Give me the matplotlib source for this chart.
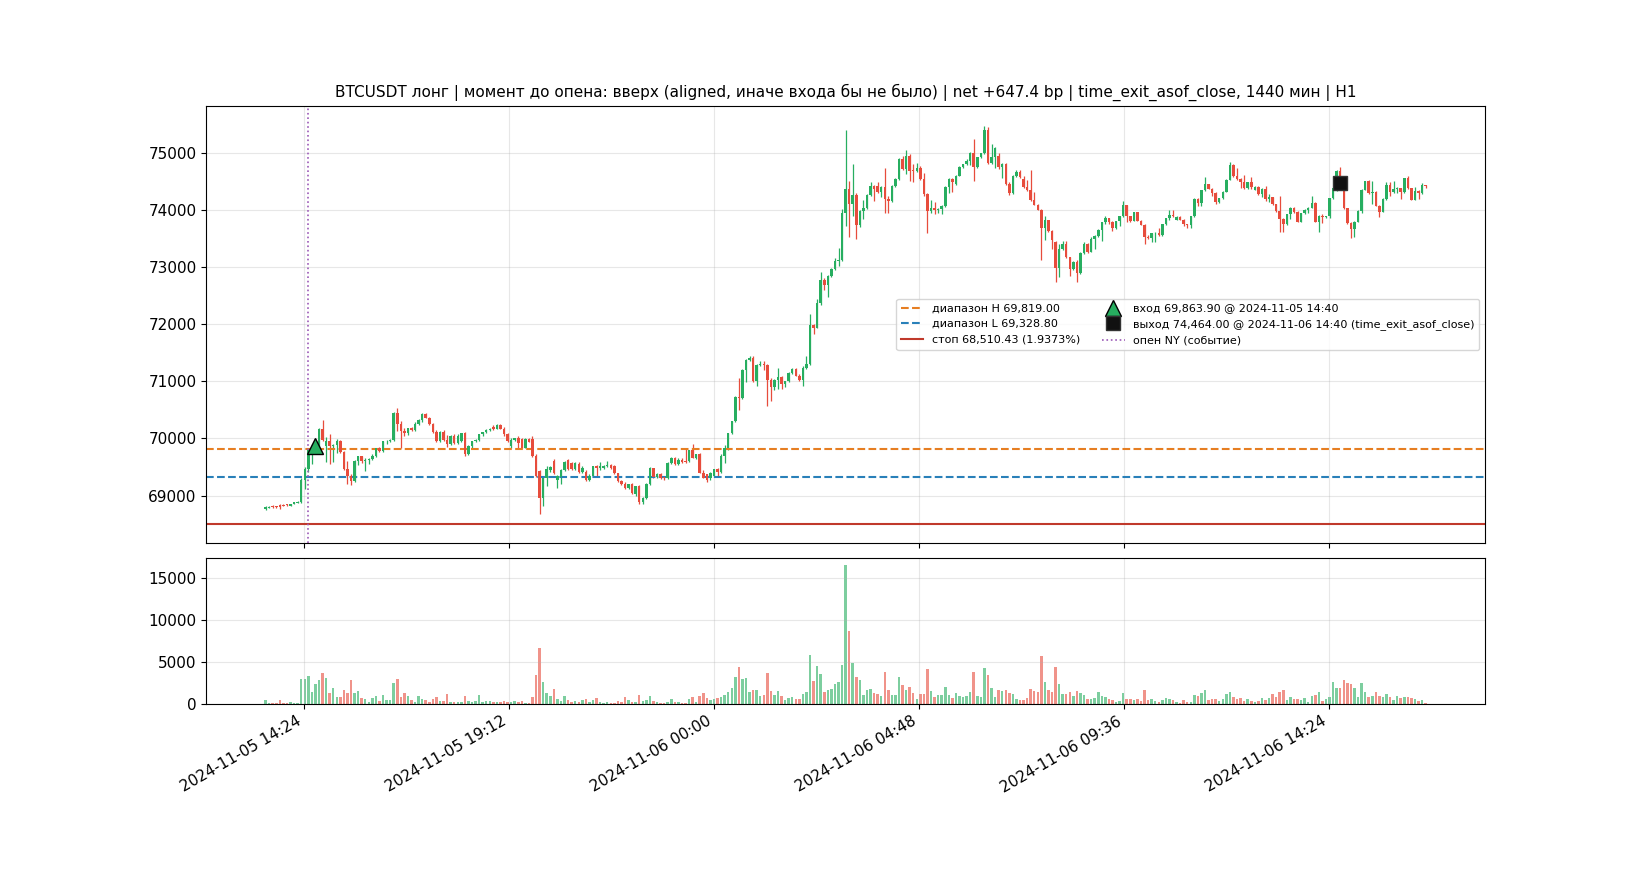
import numpy as np
import pandas as pd
import matplotlib
matplotlib.use('Agg')
import matplotlib.pyplot as plt
import matplotlib.dates as mdates

# --- trade / event parameters ---
symbol = 'BTCUSDT'
bars_start = '2024-11-05 13:30'   # first 5-min candle
range_hi = 69819.00
range_lo = 69328.80
stop_px = 68510.43
stop_pct = 1.9373
entry_px = 69863.90
entry_time = '2024-11-05 14:40'
exit_px = 74464.00
exit_time = '2024-11-06 14:40'
ny_open_time = '2024-11-05 14:30'

# --- 5-min OHLC ---
opens = [
    68765, 68790, 68815, 68815, 68835, 68835, 68845, 68825, 68855, 68875,
    68880, 69280, 69470, 69800, 69864, 69900, 70160, 69870, 69960, 69870,
    69890, 69950, 69760, 69470, 69340, 69260, 69600, 69690, 69600, 69620,
    69640, 69700, 69830, 69780, 69950, 69960, 69975, 70450, 70260, 70130,
    70090, 70180, 70150, 70260, 70330, 70420, 70360, 70250, 70120, 69960,
    70110, 69970, 69900, 70040, 69920, 69960, 70090, 69730, 69860, 69950,
    69980, 70070, 70110, 70140, 70200, 70170, 70240, 70170, 70070, 69870,
    69980, 70010, 69990, 69840, 69990, 69990, 69690, 69430, 68960, 69310,
    69440, 69600, 69270, 69330, 69450, 69630, 69570, 69460, 69560, 69420,
    69420, 69280, 69340, 69510, 69480, 69490, 69510, 69530, 69520, 69390,
    69260, 69210, 69140, 69200, 69020, 69160, 68880, 68960, 69200, 69480,
    69330, 69370, 69330, 69300, 69570, 69660, 69550, 69630, 69610, 69600,
    69800, 69660, 69720, 69400, 69370, 69310, 69340, 69460, 69410, 69700,
    69840, 70090, 70300, 70730, 70700, 71200, 71370, 71410, 71010, 71290,
    71310, 71280, 71030, 70900, 71030, 71080, 70950, 71000, 71140, 71220,
    71100, 71030, 71240, 71300, 71980, 71940, 72370, 72770, 72680, 72850,
    72970, 73110, 73120, 73950, 74360, 74100, 74260, 73730, 73980, 74030,
    74260, 74420, 74410, 74310, 74400, 74190, 74150, 74420, 74540, 74890,
    74715, 74950, 74700, 74680, 74740, 74540, 74280, 73985, 74040, 73990,
    74010, 74070, 74400, 74540, 74450, 74600, 74755, 74800, 74860, 75000,
    74755, 74920, 74990, 75400, 74815, 74930, 74950, 74745, 74800, 74460,
    74290, 74600, 74670, 74540, 74395, 74345, 74170, 74090, 74000, 73690,
    73820, 73635, 73430, 72990, 73310, 73400, 73167, 72960, 73080, 72890,
    73240, 73400, 73270, 73490, 73540, 73640, 73780, 73850, 73790, 73690,
    73800, 73890, 74080, 73890, 73810, 73960, 73810, 73740, 73530, 73500,
    73590, 73600, 73560, 73750, 73850, 73910, 73830, 73880, 73830, 73750,
    73730, 73890, 74190, 74120, 74340, 74450, 74370, 74300, 74130, 74200,
    74320, 74530, 74790, 74600, 74540, 74480, 74380, 74480, 74350, 74400,
    74280, 74370, 74190, 74220, 74100, 73985, 73840, 73750, 73926, 74040,
    73967, 73790, 73940, 74000, 74040, 74120, 73790, 73900, 73870, 73890,
    74200, 74376, 74685, 74464, 74025, 73768, 73663, 73790, 73985, 74352,
    74500, 74300, 74320, 74070, 73967, 74190, 74434, 74306, 74370, 74380,
    74310, 74550, 74376, 74180, 74335, 74290, 74430,
]
highs = [
    68810, 68815, 68830, 68825, 68860, 68845, 68855, 68860, 68890, 68900,
    69300, 69500, 69830, 69900, 69990, 70180, 70330, 70020, 70070, 69900,
    69990, 69980, 69780, 69600, 69380, 69620, 69700, 69700, 69650, 69660,
    69720, 69840, 69850, 69960, 69980, 69990, 70460, 70540, 70300, 70180,
    70190, 70200, 70280, 70340, 70440, 70450, 70380, 70270, 70150, 70130,
    70140, 70060, 70060, 70070, 70070, 70100, 70110, 69880, 69960, 69990,
    70080, 70120, 70160, 70180, 70230, 70260, 70250, 70200, 70090, 70000,
    70010, 70040, 70010, 70000, 70010, 70040, 69720, 69450, 69330, 69520,
    69520, 69640, 69360, 69470, 69600, 69640, 69590, 69580, 69590, 69520,
    69440, 69370, 69520, 69530, 69580, 69530, 69610, 69550, 69530, 69400,
    69280, 69230, 69210, 69220, 69170, 69180, 68980, 69220, 69500, 69490,
    69400, 69390, 69350, 69580, 69670, 69670, 69650, 69650, 69810, 69800,
    69910, 69730, 69740, 69440, 69380, 69410, 69470, 69480, 69720, 69880,
    70100, 70310, 70740, 71060, 71210, 71390, 71440, 71440, 71310, 71350,
    71360, 71300, 71050, 71040, 71240, 71100, 71010, 71160, 71240, 71230,
    71120, 71260, 71440, 72170, 72000, 72440, 72920, 72800, 72860, 72990,
    73150, 73340, 74020, 75390, 74510, 74800, 74300, 74000, 74180, 74280,
    74480, 74440, 74480, 74420, 74740, 74240, 74430, 74560, 74900, 74950,
    75050, 74970, 74800, 74820, 74760, 74640, 74300, 74170, 74130, 74030,
    74080, 74410, 74550, 74560, 74610, 74760, 74810, 74890, 75010, 75240,
    74930, 75000, 75475, 75445, 75150, 75100, 75000, 74820, 74820, 74480,
    74610, 74690, 74690, 74600, 74520, 74700, 74320, 74100, 74020, 73900,
    73830, 73650, 73450, 73400, 73460, 73460, 73180, 73100, 73130, 73260,
    73440, 73420, 73520, 73560, 73660, 73790, 73900, 73860, 73800, 73810,
    73900, 74160, 74090, 73900, 73970, 73970, 73830, 73760, 73560, 73600,
    73620, 73680, 73760, 73860, 73990, 73990, 73900, 73890, 73840, 73760,
    73900, 74200, 74200, 74350, 74570, 74460, 74380, 74310, 74210, 74330,
    74540, 74830, 74800, 74730, 74560, 74610, 74490, 74570, 74420, 74410,
    74390, 74420, 74280, 74230, 74110, 74247, 73850, 73930, 74050, 74050,
    73980, 73950, 74010, 74050, 74250, 74130, 73910, 73920, 73900, 74210,
    74390, 74700, 74743, 74480, 74040, 73780, 73800, 73990, 74360, 74510,
    74520, 74510, 74330, 74080, 74200, 74480, 74490, 74510, 74400, 74390,
    74560, 74600, 74390, 74400, 74340, 74470, 74440,
]
lows = [
    68750, 68780, 68790, 68785, 68765, 68810, 68815, 68815, 68845, 68865,
    68870, 69110, 69420, 69560, 69790, 69850, 69950, 69580, 69550, 69580,
    69750, 69740, 69440, 69200, 69190, 69230, 69540, 69570, 69430, 69560,
    69620, 69680, 69760, 69760, 69900, 69930, 69950, 70130, 69830, 70050,
    70060, 70130, 70130, 70240, 70290, 70350, 70240, 70100, 69940, 69940,
    69950, 69850, 69880, 69900, 69900, 69930, 69700, 69710, 69840, 69930,
    69960, 70050, 70090, 70130, 70150, 70160, 70160, 70050, 69930, 69830,
    69960, 69840, 69830, 69830, 69930, 69680, 69320, 68680, 68810, 69160,
    69420, 69380, 69140, 69200, 69430, 69440, 69450, 69440, 69400, 69400,
    69260, 69250, 69330, 69330, 69450, 69470, 69500, 69470, 69380, 69240,
    69190, 69120, 69120, 69030, 69000, 68860, 68850, 68940, 69190, 69310,
    69300, 69290, 69280, 69290, 69550, 69530, 69530, 69570, 69570, 69590,
    69650, 69640, 69390, 69300, 69230, 69280, 69330, 69350, 69400, 69570,
    69800, 70070, 70280, 70500, 70690, 70980, 71350, 70990, 70920, 71260,
    71200, 70570, 70660, 70840, 70860, 70860, 70900, 70980, 71120, 71090,
    71000, 70920, 71220, 71280, 71820, 71930, 72340, 72600, 72470, 72830,
    72950, 73020, 73100, 73710, 73520, 73900, 73490, 73700, 73840, 74020,
    74250, 74160, 74300, 74220, 73940, 73940, 74130, 74400, 74520, 74700,
    74630, 74510, 74480, 74660, 74520, 74240, 73600, 73940, 73920, 73940,
    73930, 74050, 74300, 74310, 74430, 74590, 74740, 74790, 74780, 74510,
    74740, 74900, 74980, 74800, 74800, 74740, 74720, 74550, 74440, 74260,
    74270, 74580, 74560, 74380, 74330, 74150, 74080, 73990, 73120, 73470,
    73620, 73320, 72730, 72830, 73290, 73150, 72846, 72940, 72730, 72870,
    73220, 73250, 73260, 73320, 73520, 73450, 73760, 73760, 73630, 73670,
    73720, 73880, 73780, 73780, 73800, 73800, 73730, 73400, 73490, 73440,
    73440, 73550, 73550, 73740, 73830, 73880, 73820, 73820, 73720, 73680,
    73680, 73880, 74060, 74060, 74330, 74360, 74250, 74100, 74120, 74190,
    74310, 74520, 74580, 74520, 74390, 74370, 74370, 74360, 74340, 74260,
    74220, 74160, 74130, 74080, 73955, 73605, 73605, 73740, 73840, 73950,
    73780, 73780, 73930, 73940, 74030, 73780, 73605, 73770, 73860, 73860,
    74190, 74330, 74400, 74020, 73750, 73500, 73517, 73780, 73950, 74340,
    74280, 74100, 74060, 73867, 73960, 74180, 74250, 74290, 74300, 74190,
    74300, 74370, 74170, 74170, 74190, 74280, 74375,
]
closes = [
    68795, 68805, 68800, 68800, 68800, 68820, 68830, 68855, 68880, 68885,
    69280, 69470, 69800, 69840, 69900, 70160, 69980, 69960, 69870, 69890,
    69950, 69760, 69470, 69340, 69260, 69600, 69690, 69600, 69620, 69640,
    69700, 69830, 69780, 69950, 69960, 69975, 70450, 70260, 70130, 70090,
    70180, 70150, 70260, 70330, 70420, 70360, 70250, 70120, 69960, 70110,
    69970, 69900, 70040, 69920, 70050, 70090, 69730, 69860, 69950, 69980,
    70070, 70110, 70140, 70170, 70170, 70240, 70170, 70070, 69950, 69980,
    70000, 69920, 69840, 69990, 69940, 69690, 69340, 68960, 69310, 69460,
    69500, 69400, 69340, 69450, 69580, 69470, 69460, 69570, 69420, 69490,
    69280, 69350, 69510, 69480, 69510, 69520, 69530, 69490, 69390, 69260,
    69210, 69140, 69200, 69050, 69160, 68880, 68960, 69200, 69480, 69330,
    69370, 69310, 69300, 69570, 69660, 69550, 69630, 69590, 69590, 69790,
    69660, 69720, 69400, 69310, 69280, 69400, 69460, 69410, 69700, 69840,
    70090, 70300, 70730, 70700, 71200, 71370, 71410, 71010, 71290, 71310,
    71280, 71030, 70900, 71030, 71080, 70950, 71000, 71140, 71220, 71100,
    71030, 71240, 71300, 71980, 71940, 72370, 72770, 72680, 72850, 72970,
    73110, 73120, 73950, 74360, 74100, 74260, 73730, 73980, 74030, 74260,
    74420, 74360, 74320, 74400, 74190, 74150, 74420, 74540, 74890, 74715,
    74950, 74685, 74680, 74740, 74540, 74280, 73985, 74040, 73990, 74010,
    74070, 74400, 74540, 74480, 74600, 74755, 74800, 74860, 75000, 74755,
    74920, 74990, 75400, 74815, 74930, 75090, 74745, 74800, 74460, 74290,
    74600, 74670, 74580, 74395, 74345, 74170, 74090, 74000, 73690, 73820,
    73635, 73470, 72990, 73310, 73400, 73167, 72962, 73080, 72890, 73240,
    73400, 73270, 73490, 73540, 73640, 73780, 73850, 73790, 73690, 73800,
    73890, 74080, 73890, 73810, 73960, 73810, 73740, 73530, 73500, 73590,
    73600, 73560, 73750, 73850, 73910, 73890, 73880, 73830, 73750, 73730,
    73890, 74190, 74120, 74340, 74450, 74370, 74300, 74130, 74200, 74320,
    74530, 74790, 74600, 74540, 74480, 74380, 74480, 74400, 74400, 74280,
    74370, 74190, 74220, 74100, 73985, 73840, 73750, 73926, 74040, 73967,
    73790, 73940, 74000, 74040, 74120, 73790, 73900, 73870, 73890, 74200,
    74376, 74685, 74464, 74025, 73768, 73663, 73790, 73985, 74352, 74500,
    74300, 74320, 74070, 73967, 74190, 74434, 74306, 74370, 74380, 74310,
    74550, 74376, 74180, 74335, 74290, 74430, 74410,
]
volumes = [
    480, 120, 120, 120, 480, 80, 80, 240, 120, 120,
    3000, 3000, 3360, 1440, 2400, 2880, 3720, 3120, 1320, 1920,
    840, 840, 1680, 1320, 2880, 1320, 1560, 720, 600, 240,
    720, 960, 360, 1080, 480, 480, 2520, 3000, 840, 1320,
    960, 480, 240, 960, 600, 480, 240, 600, 840, 360,
    360, 1200, 240, 240, 240, 240, 960, 360, 240, 360,
    1080, 240, 360, 360, 240, 240, 240, 360, 240, 240,
    360, 240, 360, 120, 120, 840, 3480, 6720, 2640, 1320,
    960, 1800, 600, 360, 960, 480, 240, 360, 240, 480,
    600, 240, 480, 720, 240, 120, 240, 120, 120, 360,
    240, 840, 480, 240, 240, 1080, 360, 480, 960, 360,
    240, 120, 120, 240, 600, 240, 240, 120, 120, 600,
    840, 240, 960, 1320, 720, 480, 600, 720, 840, 1080,
    1440, 1920, 3240, 4440, 3000, 3120, 1440, 1680, 1680, 960,
    1080, 3720, 1560, 1080, 1560, 960, 480, 720, 840, 600,
    600, 1200, 1440, 5880, 2760, 4560, 3600, 1440, 1680, 1800,
    2400, 2640, 4680, 16560, 8720, 4900, 3220, 2870, 1080, 1670,
    1790, 1310, 1190, 960, 3820, 1670, 1080, 1080, 3220, 2270,
    1670, 2030, 1310, 600, 1190, 1190, 4180, 1550, 840, 1080,
    1080, 2030, 1080, 720, 1310, 960, 840, 960, 1430, 3820,
    960, 840, 4300, 3460, 1910, 840, 1670, 1550, 1670, 1310,
    1190, 600, 480, 480, 720, 1790, 1550, 1430, 5730, 2630,
    1670, 1430, 4420, 2390, 1190, 1190, 1430, 960, 1550, 1310,
    1080, 600, 600, 720, 1430, 960, 840, 600, 480, 240,
    360, 1310, 600, 600, 480, 600, 360, 1670, 480, 600,
    360, 240, 480, 720, 600, 480, 240, 120, 480, 240,
    240, 1080, 960, 1310, 1670, 480, 600, 600, 360, 600,
    1190, 1430, 840, 600, 720, 360, 600, 360, 240, 360,
    720, 480, 720, 1190, 840, 1430, 1670, 480, 840, 600,
    600, 480, 720, 240, 960, 1080, 1430, 360, 600, 840,
    2630, 1910, 1910, 2870, 2510, 2390, 1910, 840, 2510, 1430,
    840, 960, 1430, 960, 840, 1190, 840, 480, 960, 720,
    840, 840, 720, 600, 360, 480, 120,
]

UP = '#27ae60'
DOWN = '#e74c3c'

plt.rcParams['font.size'] = 11


def to_num(ts):
    return mdates.date2num(pd.Timestamp(ts).to_pydatetime())


def main():
    o = np.array(opens, dtype=float)
    h = np.array(highs, dtype=float)
    l = np.array(lows, dtype=float)
    c = np.array(closes, dtype=float)
    v = np.array(volumes, dtype=float)
    times = pd.date_range(bars_start, periods=len(c), freq='5min')
    x = mdates.date2num(times.to_pydatetime())

    colors = np.where(c >= o, UP, DOWN)
    width = 0.7 * 5 / 1440  # 70% of a 5-minute bar

    fig, (ax, axv) = plt.subplots(
        2, 1, figsize=(16.5, 8.8), dpi=100, sharex=True,
        gridspec_kw={'height_ratios': [3, 1], 'hspace': 0.05})

    # candles
    ax.vlines(x, l, h, colors=colors, linewidth=0.9, zorder=2)
    body = np.maximum(np.abs(c - o), 3)
    ax.bar(x, body, bottom=np.minimum(o, c), width=width, color=colors, zorder=3)

    # levels / events
    ax.axhline(range_hi, color='#e67e22', linestyle='--', linewidth=1.5,
               label=f'диапазон H {range_hi:,.2f}')
    ax.axhline(range_lo, color='#2980b9', linestyle='--', linewidth=1.5,
               label=f'диапазон L {range_lo:,.2f}')
    ax.axhline(stop_px, color='#c0392b', linestyle='-', linewidth=1.5,
               label=f'стоп {stop_px:,.2f} ({stop_pct:.4f}%)')
    ax.plot(to_num(entry_time), entry_px, marker='^', markersize=12, color=UP,
            markeredgecolor='black', linestyle='none', zorder=5,
            label=f'вход {entry_px:,.2f} @ {entry_time}')
    ax.plot(to_num(exit_time), exit_px, marker='s', markersize=10.5, color='#111111',
            markeredgecolor='#333333', linestyle='none', zorder=5,
            label=f'выход {exit_px:,.2f} @ {exit_time} (time_exit_asof_close)')
    ax.axvline(to_num(ny_open_time), color='#9b59b6', linestyle=':', linewidth=1.2,
               label='опен NY (событие)')

    ax.set_title(f'{symbol} лонг | момент до опена: вверх (aligned, иначе входа бы не было) '
                 f'| net +647.4 bp | time_exit_asof_close, 1440 мин | H1', fontsize=11)
    ax.grid(True, alpha=0.3)
    ax.legend(loc='center right', ncol=2, fontsize=8)

    # volume
    axv.bar(x, v, width=width, color=colors, alpha=0.6)
    axv.grid(True, alpha=0.3)

    axv.xaxis.set_major_formatter(mdates.DateFormatter('%Y-%m-%d %H:%M'))
    fig.autofmt_xdate()

    fig.savefig('out.png', dpi=100)


if __name__ == '__main__':
    main()
